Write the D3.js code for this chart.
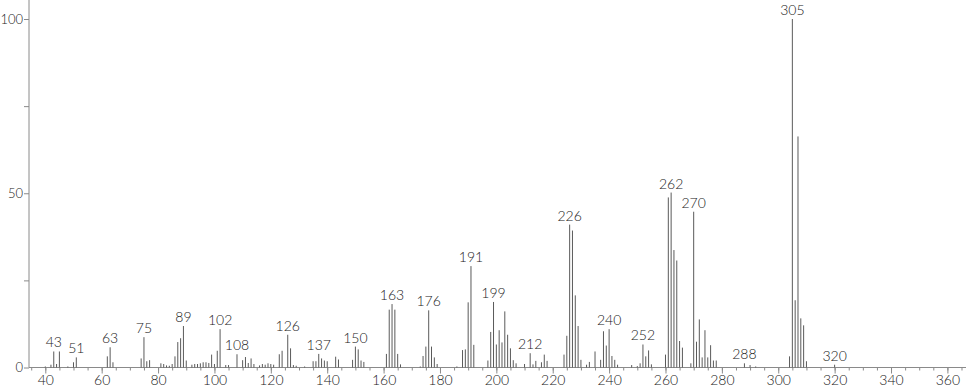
<!DOCTYPE html>
<html>
<head>
<meta charset="utf-8">
<script src="https://cdn.jsdelivr.net/npm/d3@7"></script>
<style>
  html, body { margin: 0; padding: 0; background: #fff; }
  svg { display: block; }
  text { font-family: Lato, "Open Sans", sans-serif; font-size: 14px; font-weight: 300; fill: #222; }
</style>
</head>
<body>
<svg id="chart" width="966" height="389"></svg>
<script>
// m/z values and relative intensities
const mz = [40, 42, 43, 44, 45, 48, 50, 51, 62, 63, 64, 74, 75, 76, 77, 81, 82, 83, 84, 85,
    86, 87, 88, 89, 90, 92, 93, 94, 95, 96, 97, 98, 99, 100, 101, 102, 104, 105, 108, 110,
    111, 112, 113, 114, 116, 117, 118, 119, 120, 121, 123, 124, 126, 127, 128, 129, 132, 135, 136, 137,
    138, 139, 140, 143, 144, 149, 150, 151, 152, 153, 161, 162, 163, 164, 165, 166, 173, 174, 175, 176,
    177, 178, 179, 186, 188, 189, 190, 191, 192, 197, 198, 199, 200, 201, 202, 203, 204, 205, 206, 207,
    210, 212, 213, 214, 216, 217, 218, 224, 225, 226, 227, 228, 229, 230, 232, 233, 235, 237, 238, 239,
    240, 241, 242, 243, 248, 250, 251, 252, 253, 254, 255, 260, 261, 262, 263, 264, 265, 266, 269, 270,
    271, 272, 273, 274, 275, 276, 277, 278, 288, 290, 292, 304, 305, 306, 307, 308, 309, 310, 320];

const intensity = [0.3, 0.8, 4.6, 1, 4.6, 0.3, 1.5, 2.9, 3.2, 5.8, 1.5, 2.6, 8.7, 1.8, 2.1, 1.2, 1, 0.6, 0.5, 1,
    3.2, 7.3, 8.4, 11.9, 2, 0.8, 1, 1, 1.2, 1.5, 1.5, 1.3, 3.7, 1, 4.8, 11, 0.7, 0.7, 3.8, 2.1,
    3, 1.3, 2.6, 1, 0.6, 1, 0.8, 1.2, 1, 0.8, 3.8, 4.8, 9.4, 5.5, 0.7, 0.5, 0.3, 1.8, 1.8, 3.9,
    2.6, 2, 1.8, 3.1, 2.3, 2.2, 6, 5.2, 2, 1.6, 3.9, 16.6, 18.2, 16.6, 3.9, 0.9, 0.3, 3.3, 6, 16.4,
    6, 2.9, 1, 0.3, 5, 5.2, 18.7, 29.1, 6.5, 2, 10.2, 18.8, 6.6, 10.7, 7.2, 16.1, 9.4, 5.5, 2.1, 1.2,
    1, 4.1, 0.9, 1.9, 1.5, 3.7, 1.9, 3.7, 9.1, 41, 39.3, 20.7, 11.9, 2.2, 0.8, 1.6, 4.6, 2.2, 10.4, 6.3,
    11, 3.3, 2.2, 0.8, 0.7, 0.4, 1.2, 6.6, 3.2, 4.9, 0.9, 3.7, 48.8, 50.2, 33.7, 30.7, 7.6, 5.7, 1.2, 44.7,
    7.4, 13.8, 2.9, 10.7, 2.9, 6.4, 2, 2, 1.2, 0.7, 0.3, 3.2, 100, 19.3, 66.3, 14.1, 12.1, 1.8, 0.8];

// peaks that carry an m/z label
const labeledPeaks = [43, 51, 63, 75, 89, 102, 108, 126, 137, 150, 163, 176, 191, 199, 212,
    226, 240, 252, 262, 270, 288, 305, 320];

const xTickValues = [40, 60, 80, 100, 120, 140, 160, 180, 200, 220, 240, 260, 280, 300, 320, 340, 360];
const yTickValues = [0, 50, 100];

const svg = d3.select('#chart');

const x = d3.scaleLinear().domain([40, 360]).range([45.3, 947.4]);
const y = d3.scaleLinear().domain([0, 100]).range([367.5, 19]);

const axisColor = '#8a8a8a';
const axisLeft = 29;
const fontFamily = 'Lato, "Open Sans", sans-serif';

// x axis: minor ticks every 5, major every 20
const minorX = d3.range(35, 366, 5);
const gx = svg.append('g')
    .attr('transform', 'translate(0,367.5)')
    .call(d3.axisBottom(x).tickValues(minorX).tickSize(3).tickFormat(''));
gx.select('.domain').remove();
gx.selectAll('line').attr('stroke', axisColor);

const gxm = svg.append('g')
    .attr('transform', 'translate(0,367.5)')
    .call(d3.axisBottom(x).tickValues(xTickValues).tickSize(6).tickPadding(2));
gxm.select('.domain').remove();
gxm.selectAll('line').attr('stroke', axisColor);
gxm.selectAll('text')
    .attr('fill', '#222')
    .style('font-size', '14px')
    .style('font-weight', 300)
    .style('font-family', fontFamily);

svg.append('line')
    .attr('x1', axisLeft).attr('x2', 966)
    .attr('y1', 367.5).attr('y2', 367.5)
    .attr('stroke', axisColor);

// y axis
const gy = svg.append('g')
    .attr('transform', `translate(${axisLeft},0)`)
    .call(d3.axisLeft(y)
        .tickValues([0, 25, 50, 75, 100])
        .tickSize(5)
        .tickPadding(1)
        .tickFormat(d => yTickValues.includes(d) ? d : ''));
gy.select('.domain').remove();
gy.selectAll('line').attr('stroke', axisColor);
gy.selectAll('text')
    .attr('fill', '#222')
    .style('font-size', '13px')
    .style('font-weight', 300)
    .style('font-family', fontFamily);

svg.append('line')
    .attr('x1', axisLeft).attr('x2', axisLeft)
    .attr('y1', 0).attr('y2', 367.5)
    .attr('stroke', axisColor);

// peaks
const peaks = mz.map((m, i) => ({ m: m, v: intensity[i] }));

svg.append('g')
    .selectAll('line')
    .data(peaks)
    .join('line')
    .attr('x1', d => x(d.m))
    .attr('x2', d => x(d.m))
    .attr('y1', y(0))
    .attr('y2', d => y(d.v))
    .attr('stroke', '#5a5a5a')
    .attr('stroke-width', 1);

// peak labels
svg.append('g')
    .selectAll('text')
    .data(peaks.filter(d => labeledPeaks.includes(d.m)))
    .join('text')
    .attr('x', d => x(d.m))
    .attr('y', d => y(d.v) - 4)
    .attr('text-anchor', 'middle')
    .text(d => d.m);
</script>
</body>
</html>
